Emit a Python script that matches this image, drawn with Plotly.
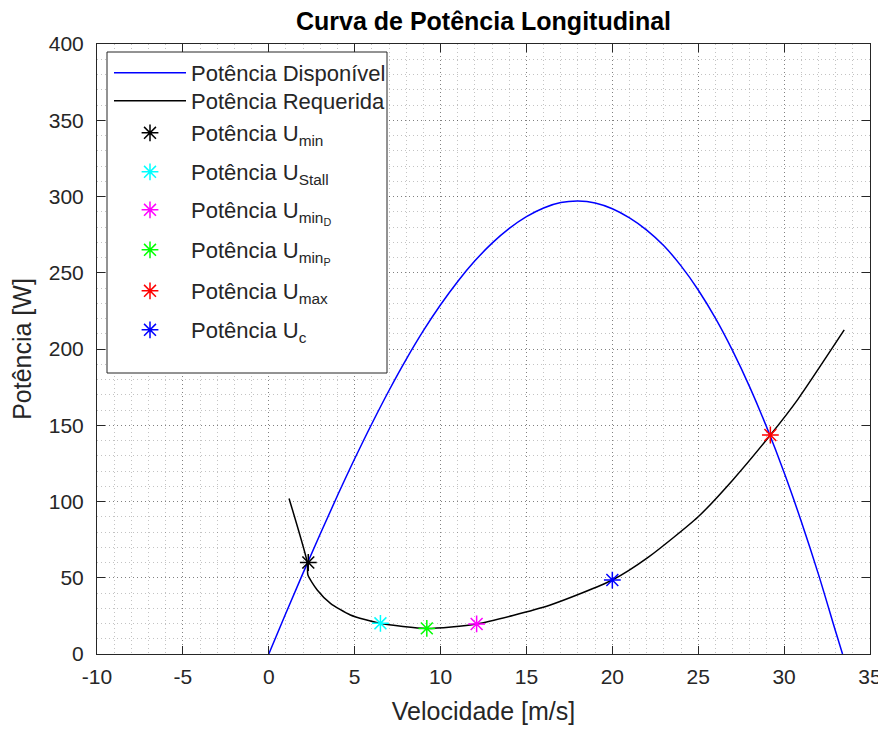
import plotly.graph_objects as go

# ---------------- data ----------------
v_disp = [0, 1, 2, 3, 4, 5, 6, 7, 8, 9, 10, 11, 12, 13, 14, 15, 16, 17, 18, 19,
          20, 21, 22, 23, 24, 25, 26, 27, 28, 29, 30, 31, 32, 33, 33.4]
p_disp = [0, 26.9, 53.2, 78.9, 103.9, 128, 151, 172.8, 193.2, 212, 229, 244.3,
          257.8, 269.4, 279.1, 286.8, 292.5, 296, 297, 295.8, 292, 286, 278,
          267.7, 254.5, 238.7, 220.2, 198.9, 175, 148.3, 119, 86.9, 52.2, 14.7, 0]

v_req = [1.18, 2.24, 2.28, 2.82, 3.59, 4.75, 6.49, 9.19, 12.1, 16.35, 20.0, 22.1,
         25.0, 27.0, 29.2, 30.8, 33.5]
p_req = [102, 60, 51.8, 42, 33.2, 25.6, 20.1, 16.8, 19.7, 32, 48.5, 63.5, 90,
         114, 143.6, 167, 212.5]

point_names = ["Potência U<sub>min</sub>", "Potência U<sub>Stall</sub>",
               "Potência U<sub>min<sub>D</sub></sub>",
               "Potência U<sub>min<sub>P</sub></sub>",
               "Potência U<sub>max</sub>", "Potência U<sub>c</sub>"]
point_v = [2.3, 6.5, 12.1, 9.2, 29.2, 20.0]
point_p = [60, 20.1, 19.7, 16.8, 143.6, 48.5]
point_colors = ["#000000", "#00FFFF", "#FF00FF", "#00FF00", "#FF0000", "#0000FF"]

x_ticks = [-10, -5, 0, 5, 10, 15, 20, 25, 30, 35]
y_ticks = [0, 50, 100, 150, 200, 250, 300, 350, 400]

# ---------------- figure ----------------
FONT = "Liberation Sans, Arial, sans-serif"
OFF = 8                      # default body margin of the html page
W, H = 886 - OFF, 733 - 2 * OFF
PLOT_L, PLOT_T = 97, 44      # page pixels of the plot area's top-left corner
plot_w, plot_h = 773, 610
L, T = PLOT_L - OFF, PLOT_T - OFF
R = W - L - plot_w
B = H - T - plot_h

def py2paper(py):  # page pixels -> paper
    return (PLOT_T + plot_h - py) / plot_h

def px2paper(px):
    return (px - PLOT_L) / plot_w

fig = go.Figure()

fig.add_trace(go.Scatter(x=v_disp, y=p_disp, mode="lines", name="Potência Disponível",
                         line=dict(color="#0000FF", width=1.5, shape="spline", smoothing=1),
                         legend="legend"))
fig.add_trace(go.Scatter(x=v_req, y=p_req, mode="lines", name="Potência Requerida",
                         line=dict(color="#000000", width=1.5, shape="spline", smoothing=0.6),
                         legend="legend2"))

for i, (nm, xv, yv, c) in enumerate(zip(point_names, point_v, point_p, point_colors)):
    fig.add_trace(go.Scatter(x=[xv], y=[yv], mode="markers", name=nm,
                             marker=dict(symbol="asterisk-open", size=14, color=c,
                                         line=dict(color=c, width=1.5)),
                             legend="legend%d" % (i + 3)))

legend_rows_py = [73, 101, 133, 172, 210, 250, 291, 330]
layout_legends = {}
for i, py in enumerate(legend_rows_py):
    key = "legend" if i == 0 else "legend%d" % (i + 1)
    layout_legends[key] = dict(
        x=px2paper(109), y=py2paper(py), xanchor="left", yanchor="middle",
        bgcolor="rgba(0,0,0,0)", borderwidth=0,
        font=dict(family=FONT, size=22, color="#262626"),
        itemwidth=72, tracegroupgap=0,
    )

grid_major = "rgba(38,38,38,0.42)"
grid_minor = "rgba(38,38,38,0.28)"
axis_col = "#262626"
DASH = "1px,3px"

fig.update_layout(
    width=W, height=H,
    margin=dict(l=L, r=R, t=T, b=B, autoexpand=False),
    paper_bgcolor="white", plot_bgcolor="white",
    showlegend=True,
    title=dict(text="<b>Curva de Potência Longitudinal</b>",
               font=dict(family=FONT, size=25, color="#000000"),
               x=(L + plot_w / 2) / W, xanchor="center", y=1 - 4 / H, yanchor="top",
               pad=dict(t=0, b=0, l=0, r=0)),
    xaxis=dict(range=[-10, 35], tickvals=x_ticks, ticktext=[str(t) for t in x_ticks],
               showline=True, mirror="ticks", linecolor=axis_col, linewidth=1,
               ticks="inside", ticklen=8, tickcolor=axis_col, ticklabelstandoff=4,
               ticklabeloverflow="allow", automargin=False,
               showgrid=True, gridcolor=grid_major, griddash=DASH, gridwidth=1,
               zeroline=False,
               minor=dict(dtick=1, showgrid=True, gridcolor=grid_minor, griddash=DASH,
                          gridwidth=1, ticks=""),
               tickfont=dict(family=FONT, size=21, color=axis_col),
               title=dict(text="Velocidade [m/s]", font=dict(family=FONT, size=25, color=axis_col),
                          standoff=19)),
    yaxis=dict(range=[0, 400], tickvals=y_ticks, ticktext=[str(t) for t in y_ticks],
               showline=True, mirror="ticks", linecolor=axis_col, linewidth=1,
               ticks="inside", ticklen=8, tickcolor=axis_col, ticklabelstandoff=8,
               ticklabeloverflow="allow", automargin=False,
               showgrid=True, gridcolor=grid_major, griddash=DASH, gridwidth=1,
               zeroline=False,
               minor=dict(dtick=10, showgrid=True, gridcolor=grid_minor, griddash=DASH,
                          gridwidth=1, ticks=""),
               tickfont=dict(family=FONT, size=21, color=axis_col),
               title=dict(text="Potência [W]", font=dict(family=FONT, size=25, color=axis_col),
                          standoff=12)),
    shapes=[dict(type="rect", xref="paper", yref="paper",
                 x0=px2paper(107), x1=px2paper(387), y0=py2paper(373), y1=py2paper(52),
                 line=dict(color=axis_col, width=1), fillcolor="white", layer="above")],
    **layout_legends,
)

fig.write_html("out.html")
